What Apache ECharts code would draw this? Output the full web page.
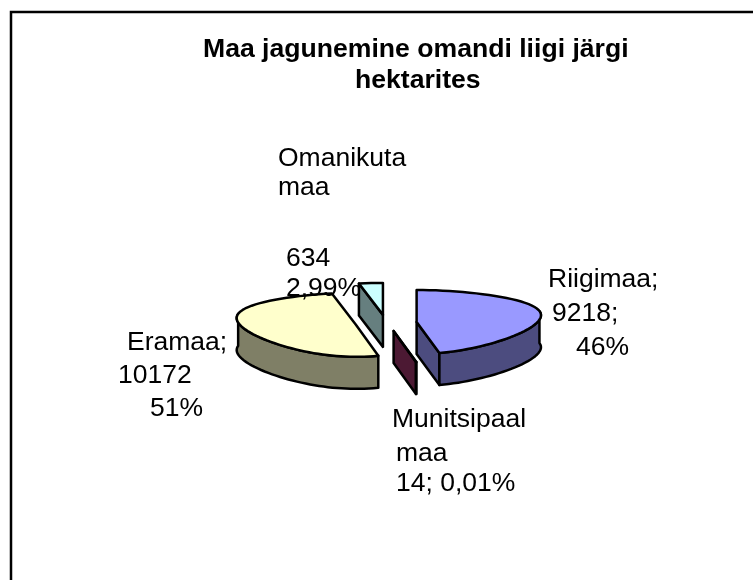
<!DOCTYPE html>
<html>
<head>
<meta charset="utf-8">
<style>html,body{margin:0;padding:0;background:#fff}</style>
<script src="https://cdn.jsdelivr.net/npm/echarts@6/dist/echarts.min.js"></script>
</head>
<body>
<div id="main" style="width:753px;height:580px"></div>
<script>
var categories = ["Riigimaa", "Munitsipaal maa", "Eramaa", "Omanikuta maa"]
var hectares = [9218, 14, 10172, 634]
var titleLines = ["Maa jagunemine omandi liigi järgi", "hektarites"]
var labelLines = ["Omanikuta", "maa", "634", "2,99%", "Eramaa;", "10172", "51%", "Riigimaa;", "9218;", "46%", "Munitsipaal", "maa", "14; 0,01%"]

// left x and baseline y of each text line above
var titlePos = [[203, 58], [355, 89]]
var labelPos = [[278, 167], [278, 196], [286, 267], [286, 297], [127, 351], [118, 384], [150, 417],
    [548, 288], [552, 322], [576, 356], [392, 428], [396, 462], [396, 492]]

var topColors = ["#9999ff", "#993366", "#ffffcc", "#ccffff"]
var sideColors = ["#4c4c7f", "#4c1933", "#7f7f66", "#667f7f"]

var pie = {cx: 386, cy: 323, rxRight: 121, rxLeft: 116, ry: 32, depth: 32, explode: 0.255, persp: 0.25}
var total = hectares.reduce(function (a, b) { return a + b }, 0)

function rim(c, deg, dy) {
    var t = deg * Math.PI / 180, s = Math.sin(t), k = Math.cos(t)
    // rough stand-in for the 3d view: front narrows, back stays wide at the sides only
    var f = k > 0 ? 1 + pie.persp * k * Math.abs(s) : 1 + pie.persp * k
    return [c[0] + (s > 0 ? pie.rxRight : pie.rxLeft) * s * f, c[1] - pie.ry * k + (dy || 0)]
}
function arcPoints(c, from, to, dy) {
    var pts = [], n = Math.max(2, Math.ceil((to - from) / 3))
    for (var i = 0; i <= n; i++) pts.push(rim(c, from + (to - from) * i / n, dy))
    return pts
}
function poly(points, fill) {
    return {type: "polygon", shape: {points: points},
        style: {fill: fill, stroke: "#000", lineWidth: 2.5, lineJoin: "round"}}
}
function renderSlice(params, api) {
    var i = params.dataIndex, before = 0
    for (var j = 0; j < i; j++) before += hectares[j]
    var start = before / total * 360
    var end = start + api.value(0) / total * 360
    var mid = (start + end) / 2 * Math.PI / 180
    var c = [pie.cx + pie.explode * pie.rxRight * Math.sin(mid), pie.cy - pie.explode * pie.ry * Math.cos(mid)]
    var d = pie.depth, kids = []
    var bottom = [c[0], c[1] + d]

    // cut faces turned towards the viewer
    if (Math.cos((start - 90) * Math.PI / 180) < -0.01) {
        var a = rim(c, start)
        kids.push(poly([c, a, [a[0], a[1] + d], bottom], sideColors[i]))
    }
    if (Math.cos((end + 90) * Math.PI / 180) < -0.01) {
        var b = rim(c, end)
        kids.push(poly([c, b, [b[0], b[1] + d], bottom], sideColors[i]))
    }
    // outer wall up to the silhouette, the top face hides the rest
    var w0 = Math.max(start, 70), w1 = Math.min(end, 290)
    if (w1 > w0) {
        kids.push(poly(arcPoints(c, w0, w1).concat(arcPoints(c, w0, w1, d).reverse()), sideColors[i]))
    }
    kids.push(poly([c].concat(arcPoints(c, start, end)), topColors[i]))
    return {type: "group", children: kids}
}

function textEl(str, pos, size, weight) {
    return {type: "text", x: pos[0], y: pos[1] - size * 0.33, z: 100, silent: true,
        style: {text: str, fill: "#000", fontFamily: "Liberation Sans", fontSize: size, fontWeight: weight,
            align: "left", verticalAlign: "middle"}}
}

var texts = []
titleLines.forEach(function (s, i) { texts.push(textEl(s, titlePos[i], 26.6, "bold")) })
labelLines.forEach(function (s, i) { texts.push(textEl(s, labelPos[i], 26.5, "normal")) })
// frame runs off the right and bottom of the window
texts.push({type: "polyline", z: 50, silent: true, shape: {points: [[11, 580], [11, 12], [753, 12]]},
    style: {fill: "none", stroke: "#000", lineWidth: 2.5}})

var chart = echarts.init(document.getElementById("main"))
chart.setOption({
    animation: false,
    backgroundColor: "#fff",
    graphic: {elements: texts},
    series: [{
        type: "custom",
        coordinateSystem: "none",
        silent: true,
        renderItem: renderSlice,
        data: hectares.map(function (v, i) { return {name: categories[i], value: [v]} })
    }]
})
</script>
</body>
</html>
